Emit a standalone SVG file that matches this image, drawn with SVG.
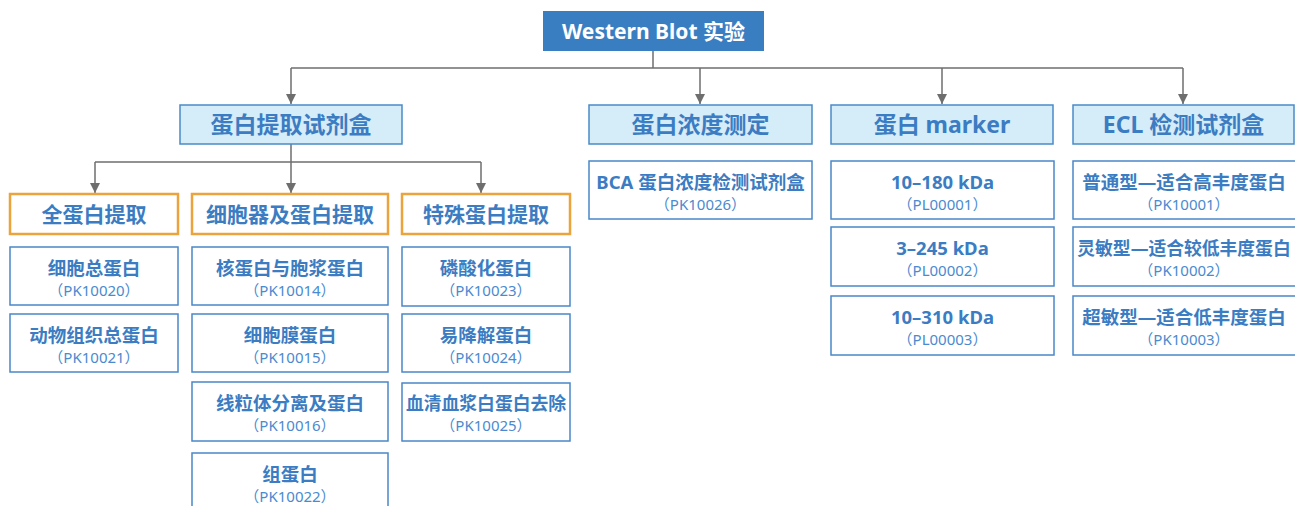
<svg xmlns="http://www.w3.org/2000/svg" width="1295" height="506" viewBox="0 0 1295 506">
<style>
.bg{fill:#ffffff}
.root rect{fill:#3a7ec2}
.root text{fill:#ffffff;font-family:"Noto Sans","Noto Sans CJK SC",sans-serif;font-weight:700;font-size:21px;text-anchor:middle}
.cat rect{fill:#d5ecf9;stroke:#4a8ac8;stroke-width:1.5}
.cat text{fill:#3b7cc2;font-family:"Noto Sans","Noto Sans CJK SC",sans-serif;font-weight:700;font-size:23px;text-anchor:middle}
.sub rect{fill:#ffffff;stroke:#eba43c;stroke-width:2.5}
.sub text{fill:#3b7cc2;font-family:"Noto Sans","Noto Sans CJK SC",sans-serif;font-weight:700;font-size:21px;text-anchor:middle}
.leaf rect{fill:#ffffff;stroke:#4a88c8;stroke-width:1.5}
.leaf .t{fill:#3b7cc2;font-family:"Noto Sans","Noto Sans CJK SC",sans-serif;font-weight:700;font-size:18.5px;text-anchor:middle}
.leaf .t.n{font-size:17.8px}
.leaf .c{fill:#4a8ad0;font-family:"Noto Sans","Noto Sans CJK SC",sans-serif;font-size:15px;text-anchor:middle}
.conn path{fill:none;stroke:#6e6e6e;stroke-width:1.5}
</style>
<defs>
<marker id="arr" viewBox="0 0 10 10" refX="10" refY="5" markerWidth="10" markerHeight="10" markerUnits="userSpaceOnUse" orient="auto">
<path d="M0,0 L10,5 L0,10 z" fill="#6e6e6e"/>
</marker>
</defs>
<rect class="bg" x="0" y="0" width="1295" height="506"/>
<g class="conn">
<path d="M653,51 V68"/>
<path d="M291,68 H1183"/>
<path d="M291,68 V104" marker-end="url(#arr)"/>
<path d="M700,68 V104" marker-end="url(#arr)"/>
<path d="M942,68 V104" marker-end="url(#arr)"/>
<path d="M1183,68 V104" marker-end="url(#arr)"/>
<path d="M291,144 V162"/>
<path d="M95,162 H481"/>
<path d="M95,162 V193" marker-end="url(#arr)"/>
<path d="M291,162 V193" marker-end="url(#arr)"/>
<path d="M481,162 V193" marker-end="url(#arr)"/>
</g>
<g id="root" class="root"><rect x="543" y="11" width="221" height="40"/><text x="653.5" y="38.5">Western Blot 实验</text></g>
<g id="cat1" class="cat"><rect x="180" y="105" width="222" height="39"/><text x="291" y="133">蛋白提取试剂盒</text></g>
<g id="cat2" class="cat"><rect x="589" y="105" width="223" height="39"/><text x="700.5" y="133">蛋白浓度测定</text></g>
<g id="cat3" class="cat"><rect x="831" y="105" width="222" height="39"/><text x="942" y="133">蛋白 marker</text></g>
<g id="cat4" class="cat"><rect x="1073" y="105" width="221" height="39"/><text x="1183.5" y="133">ECL 检测试剂盒</text></g>
<g id="sub1" class="sub"><rect x="10" y="194" width="168" height="40"/><text x="94" y="221.5">全蛋白提取</text></g>
<g id="sub2" class="sub"><rect x="192" y="194" width="196" height="40"/><text x="290" y="221.5">细胞器及蛋白提取</text></g>
<g id="sub3" class="sub"><rect x="402" y="194" width="168" height="40"/><text x="486" y="221.5">特殊蛋白提取</text></g>
<g id="l1" class="leaf"><rect x="10" y="247" width="168" height="58"/><text class="t" x="94" y="275">细胞总蛋白</text><text class="c" x="94" y="296">（PK10020）</text></g>
<g id="l2" class="leaf"><rect x="10" y="314" width="168" height="58"/><text class="t" x="94" y="342">动物组织总蛋白</text><text class="c" x="94" y="363">（PK10021）</text></g>
<g id="l3" class="leaf"><rect x="192" y="247" width="196" height="58"/><text class="t" x="290" y="275">核蛋白与胞浆蛋白</text><text class="c" x="290" y="296">（PK10014）</text></g>
<g id="l4" class="leaf"><rect x="192" y="314" width="196" height="58"/><text class="t" x="290" y="342">细胞膜蛋白</text><text class="c" x="290" y="363">（PK10015）</text></g>
<g id="l5" class="leaf"><rect x="192" y="382" width="196" height="59"/><text class="t" x="290" y="410">线粒体分离及蛋白</text><text class="c" x="290" y="431">（PK10016）</text></g>
<g id="l6" class="leaf"><rect x="192" y="453" width="196" height="60"/><text class="t" x="290" y="481">组蛋白</text><text class="c" x="290" y="502">（PK10022）</text></g>
<g id="l7" class="leaf"><rect x="402" y="247" width="168" height="59"/><text class="t" x="486" y="275">磷酸化蛋白</text><text class="c" x="486" y="296">（PK10023）</text></g>
<g id="l8" class="leaf"><rect x="402" y="314" width="168" height="58"/><text class="t" x="486" y="342">易降解蛋白</text><text class="c" x="486" y="363">（PK10024）</text></g>
<g id="l9" class="leaf"><rect x="402" y="383" width="168" height="58"/><text class="t n" x="486" y="410">血清血浆白蛋白去除</text><text class="c" x="486" y="431">（PK10025）</text></g>
<g id="l10" class="leaf"><rect x="589" y="161" width="223" height="58"/><text class="t" x="700.5" y="189">BCA 蛋白浓度检测试剂盒</text><text class="c" x="700.5" y="210">（PK10026）</text></g>
<g id="l11" class="leaf"><rect x="831" y="161" width="223" height="58"/><text class="t" x="942.5" y="189">10–180 kDa</text><text class="c" x="942.5" y="210">（PL00001）</text></g>
<g id="l12" class="leaf"><rect x="831" y="227" width="223" height="59"/><text class="t" x="942.5" y="255">3–245 kDa</text><text class="c" x="942.5" y="276">（PL00002）</text></g>
<g id="l13" class="leaf"><rect x="831" y="296" width="223" height="59"/><text class="t" x="942.5" y="324">10–310 kDa</text><text class="c" x="942.5" y="345">（PL00003）</text></g>
<g id="l14" class="leaf"><rect x="1073" y="161" width="223" height="58"/><text class="t" x="1184" y="189">普通型—适合高丰度蛋白</text><text class="c" x="1184" y="210">（PK10001）</text></g>
<g id="l15" class="leaf"><rect x="1073" y="227" width="223" height="59"/><text class="t n" x="1184" y="255">灵敏型—适合较低丰度蛋白</text><text class="c" x="1184" y="276">（PK10002）</text></g>
<g id="l16" class="leaf"><rect x="1073" y="296" width="223" height="59"/><text class="t" x="1184" y="324">超敏型—适合低丰度蛋白</text><text class="c" x="1184" y="345">（PK10003）</text></g>
</svg>
